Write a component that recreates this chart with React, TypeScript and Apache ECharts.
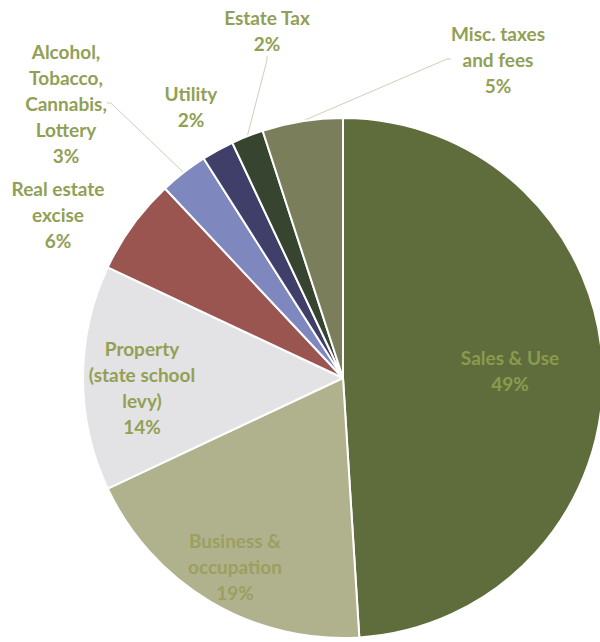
import React, { useEffect, useRef } from "react";
import * as echarts from "echarts";

const categories = [
  "Sales & Use",
  "Business &\noccupation",
  "Property\n(state school\nlevy)",
  "Real estate\nexcise",
  "Alcohol,\nTobacco,\nCannabis,\nLottery",
  "Utility",
  "Estate Tax",
  "Misc. taxes\nand fees",
];
const shares = [49, 19, 14, 6, 3, 2, 2, 5];
const colors = ["#5f6d3d", "#b0b28d", "#e3e3e5", "#9a5550", "#7f87bf", "#403f69", "#364430", "#7a7e5a"];
const labelColors = ["#8b9b4d", "#9c9f5f", "#93a053", "#91a055", "#91a055", "#91a055", "#91a055", "#91a055"];
const showLeader = [false, false, false, false, true, false, true, true];
// label block centres (layout only)
const labelPos: [number, number][] = [
  [510, 370],
  [235, 566],
  [142, 387],
  [58, 214],
  [66, 103],
  [191, 106],
  [267, 30],
  [498, 59],
];

export default function App() {
  const ref = useRef<HTMLDivElement>(null);
  useEffect(() => {
    if (!ref.current) return;
    const chart = echarts.init(ref.current, undefined, { renderer: "svg" });
    chart.setOption({
      animation: false,
      backgroundColor: "#ffffff",
      series: [
        {
          type: "pie",
          center: [343, 378],
          radius: [0, 260],
          startAngle: 90,
          clockwise: true,
          avoidLabelOverlap: false,
          itemStyle: { borderColor: "#ffffff", borderWidth: 2 },
          label: {
            show: true,
            position: "outside",
            fontFamily: "Lato",
            fontWeight: 700,
            fontSize: 19,
            lineHeight: 26,
            align: "center",
            formatter: (p: any) => `${p.name}\n${p.value}%`,
          },
          labelLine: { show: true, length: 10, length2: 4, lineStyle: { color: "#ccd0b8", width: 1 } },
          labelLayout: (params: any) => {
            const pos = labelPos[params.dataIndex];
            return { x: pos[0], y: pos[1], align: "center", verticalAlign: "middle" };
          },
          data: categories.map((name, i) => ({
            name,
            value: shares[i],
            itemStyle: { color: colors[i] },
            label: { color: labelColors[i] },
            labelLine: { show: showLeader[i] },
          })),
        },
      ],
    });
    return () => chart.dispose();
  }, []);
  return (
    <div
      ref={ref}
      style={{ position: "absolute", left: 0, top: 0, width: 600, height: 642 }}
    />
  );
}
